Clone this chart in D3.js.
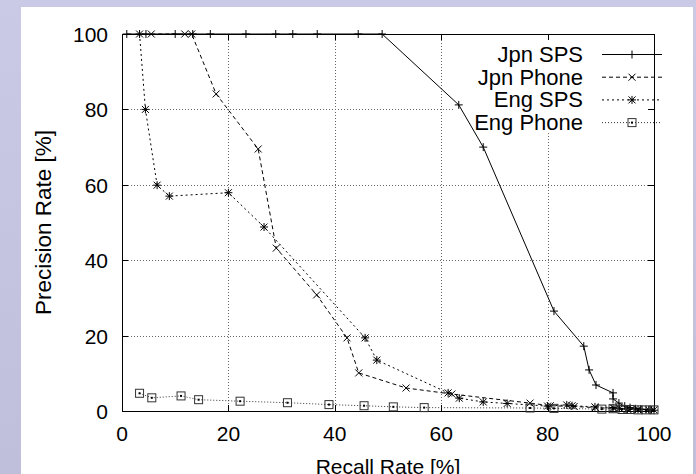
<!DOCTYPE html>
<html lang="en">

<head>
	<script src='https://d3js.org/d3.v7.min.js'></script>
	<style>
		body { margin: 0; }
		svg text { font-family: "Liberation Sans", Arial, sans-serif; fill: #000; }
	</style>
</head>

<body>
	<script>
		var width = 696,
			height = 474;

		// values (recall %, precision %)
		var jpnSpsRecall = [0.9, 4.5, 10.0, 13.3, 16.6, 23.3, 28.9, 32.1, 36.7, 44.4, 48.9, 63.3, 67.9, 81.2, 86.8, 87.8, 89.1, 92.3, 92.3, 93.4, 94.5, 95.5, 96.5, 97.5, 98.5, 99.5, 100];
		var jpnSpsPrecision = [100, 100, 100, 100, 100, 100, 100, 100, 100, 100, 100, 81.2, 70.0, 26.5, 17.2, 10.9, 6.9, 4.8, 3.2, 2.1, 1.3, 0.9, 0.6, 0.5, 0.4, 0.3, 0.2];

		var jpnPhoneRecall = [5.5, 11.8, 13.1, 17.7, 25.6, 29.0, 36.6, 42.3, 44.5, 53.4, 62.0, 76.7, 80.5, 85.0, 89.0, 92.5, 95.0, 97.0, 100];
		var jpnPhonePrecision = [100, 100, 100, 84.1, 69.5, 43.2, 30.8, 19.4, 10.1, 6.1, 4.5, 2.1, 1.4, 1.2, 0.9, 0.7, 0.5, 0.4, 0.3];

		var engSpsRecall = [3.3, 4.4, 6.6, 8.9, 20.0, 26.7, 45.7, 47.9, 61.3, 63.4, 67.9, 72.4, 80.0, 83.6, 84.6, 88.9, 92.3, 93.5, 95.0, 97.0, 99.0];
		var engSpsPrecision = [100, 80, 59.9, 57.0, 57.9, 48.8, 19.4, 13.5, 4.8, 3.4, 2.4, 2.0, 1.3, 1.6, 1.4, 1.1, 0.9, 0.7, 0.5, 0.4, 0.3];

		var engPhoneRecall = [3.3, 5.6, 11.1, 14.4, 22.2, 31.1, 38.9, 45.5, 51.0, 56.8, 76.7, 81.2, 90.2, 92.3, 94.0, 95.5, 97.0, 98.5, 100];
		var engPhonePrecision = [4.7, 3.5, 4.0, 3.0, 2.6, 2.2, 1.7, 1.4, 1.1, 0.9, 0.8, 0.7, 0.5, 0.6, 0.4, 0.4, 0.3, 0.3, 0.3];

		var seriesNames = ['Jpn SPS', 'Jpn Phone', 'Eng SPS', 'Eng Phone'];
		var xTicks = [0, 20, 40, 60, 80, 100];
		var yTicks = [0, 20, 40, 60, 80, 100];

		// plot frame in pixels (note: "top" is taken by window.top)
		var plotLeft = 122, plotRight = 654, plotTop = 34, plotBottom = 411;

		var svg = d3.select('body')
			.append('svg')
			.attr('width', width)
			.attr('height', height);

		// slide background + white panel
		var grad = svg.append('defs').append('linearGradient')
			.attr('id', 'bg').attr('x1', 0).attr('y1', 0).attr('x2', 0).attr('y2', 1);
		grad.append('stop').attr('offset', '0%').attr('stop-color', '#cacae6');
		grad.append('stop').attr('offset', '100%').attr('stop-color', '#bfbfdc');
		svg.append('rect').attr('width', width).attr('height', height).attr('fill', 'url(#bg)');
		svg.append('rect').attr('x', 21).attr('y', 7).attr('width', 672).attr('height', 467).attr('fill', '#fff');

		var x = d3.scaleLinear().domain([0, 100]).range([plotLeft, plotRight]);
		var y = d3.scaleLinear().domain([0, 100]).range([plotBottom, plotTop]);

		// grid
		svg.append('g').selectAll('line').data(xTicks.slice(1, -1)).join('line')
			.attr('x1', function(d) { return Math.round(x(d)) + 0.5 }).attr('x2', function(d) { return Math.round(x(d)) + 0.5 })
			.attr('y1', plotTop).attr('y2', plotBottom)
			.attr('stroke', '#666').attr('stroke-dasharray', '1,2');
		svg.append('g').selectAll('line').data(yTicks.slice(1, -1)).join('line')
			.attr('y1', function(d) { return Math.round(y(d)) + 0.5 }).attr('y2', function(d) { return Math.round(y(d)) + 0.5 })
			.attr('x1', plotLeft).attr('x2', plotRight)
			.attr('stroke', '#666').attr('stroke-dasharray', '1,2');

		// blank box behind the key
		svg.append('rect').attr('x', 453).attr('y', 40).attr('width', 200).attr('height', 93).attr('fill', '#fff');

		// axes: inward ticks, mirrored
		var ax = svg.append('g').attr('stroke', '#000').attr('stroke-width', 1);
		ax.append('rect').attr('x', plotLeft + 0.5).attr('y', plotTop + 0.5)
			.attr('width', plotRight - plotLeft).attr('height', plotBottom - plotTop).attr('fill', 'none');
		xTicks.forEach(function(d) {
			var px = Math.round(x(d)) + 0.5;
			ax.append('line').attr('x1', px).attr('x2', px).attr('y1', plotBottom).attr('y2', plotBottom - 6);
			ax.append('line').attr('x1', px).attr('x2', px).attr('y1', plotTop).attr('y2', plotTop + 6);
		});
		yTicks.forEach(function(d) {
			var py = Math.round(y(d)) + 0.5;
			ax.append('line').attr('y1', py).attr('y2', py).attr('x1', plotLeft).attr('x2', plotLeft + 6);
			ax.append('line').attr('y1', py).attr('y2', py).attr('x1', plotRight).attr('x2', plotRight - 6);
		});

		svg.append('g').selectAll('text').data(xTicks).join('text')
			.attr('x', function(d) { return x(d) }).attr('y', 441)
			.attr('text-anchor', 'middle').attr('font-size', 21)
			.text(function(d) { return d });
		svg.append('g').selectAll('text').data(yTicks).join('text')
			.attr('x', 108).attr('y', function(d) { return y(d) + 8 })
			.attr('text-anchor', 'end').attr('font-size', 21)
			.text(function(d) { return d });

		svg.append('text').attr('x', (plotLeft + plotRight) / 2).attr('y', 474)
			.attr('text-anchor', 'middle').attr('font-size', 21).text('Recall Rate [%]');
		svg.append('text').attr('transform', 'translate(51,' + (plotTop + plotBottom) / 2 + ') rotate(-90)')
			.attr('text-anchor', 'middle').attr('font-size', 22.5).text('Precision Rate [%]');

		// point shapes
		function drawPoint(g, kind, cx, cy) {
			var s = 4;
			if (kind == 'plus' || kind == 'star') {
				g.append('path').attr('d', 'M' + (cx - s) + ',' + cy + 'H' + (cx + s) + 'M' + cx + ',' + (cy - s) + 'V' + (cy + s));
			}
			if (kind == 'cross' || kind == 'star') {
				var c = 3.5;
				g.append('path').attr('d', 'M' + (cx - c) + ',' + (cy - c) + 'L' + (cx + c) + ',' + (cy + c) + 'M' + (cx - c) + ',' + (cy + c) + 'L' + (cx + c) + ',' + (cy - c));
			}
			if (kind == 'box') {
				g.append('rect').attr('x', cx - 4).attr('y', cy - 4).attr('width', 8).attr('height', 8).attr('fill', 'none');
				g.append('rect').attr('x', cx - 1).attr('y', cy - 1).attr('width', 2).attr('height', 2).attr('fill', '#000').attr('stroke', 'none');
			}
		}

		var series = [
			{ name: seriesNames[0], xs: jpnSpsRecall, ys: jpnSpsPrecision, dash: null, pt: 'plus', color: '#000' },
			{ name: seriesNames[1], xs: jpnPhoneRecall, ys: jpnPhonePrecision, dash: '4,3', pt: 'cross', color: '#000' },
			{ name: seriesNames[2], xs: engSpsRecall, ys: engSpsPrecision, dash: '2,3', pt: 'star', color: '#000' },
			{ name: seriesNames[3], xs: engPhoneRecall, ys: engPhonePrecision, dash: '1,2', pt: 'box', color: '#333' }
		];

		var line = d3.line()
			.x(function(d) { return x(d[0]) })
			.y(function(d) { return y(d[1]) });

		series.forEach(function(s, i) {
			var pts = s.xs.map(function(v, j) { return [v, s.ys[j]] });
			var g = svg.append('g').attr('stroke', s.color).attr('stroke-width', 1).attr('fill', 'none');
			g.append('path').attr('d', line(pts)).attr('stroke-dasharray', s.dash);
			pts.forEach(function(p) { drawPoint(g, s.pt, x(p[0]), y(p[1])) });

			// key entry
			var ky = 54 + i * 22.7;
			svg.append('text').attr('x', 583).attr('y', ky + 8)
				.attr('text-anchor', 'end').attr('font-size', 22).text(s.name);
			var kg = svg.append('g').attr('stroke', s.color).attr('stroke-width', 1).attr('fill', 'none');
			kg.append('line').attr('x1', 602).attr('x2', 662).attr('y1', ky + 0.5).attr('y2', ky + 0.5)
				.attr('stroke-dasharray', s.dash);
			drawPoint(kg, s.pt, 632, ky + 0.5);
		});

		console.log('ready..');
	</script>

</body>

</html>
